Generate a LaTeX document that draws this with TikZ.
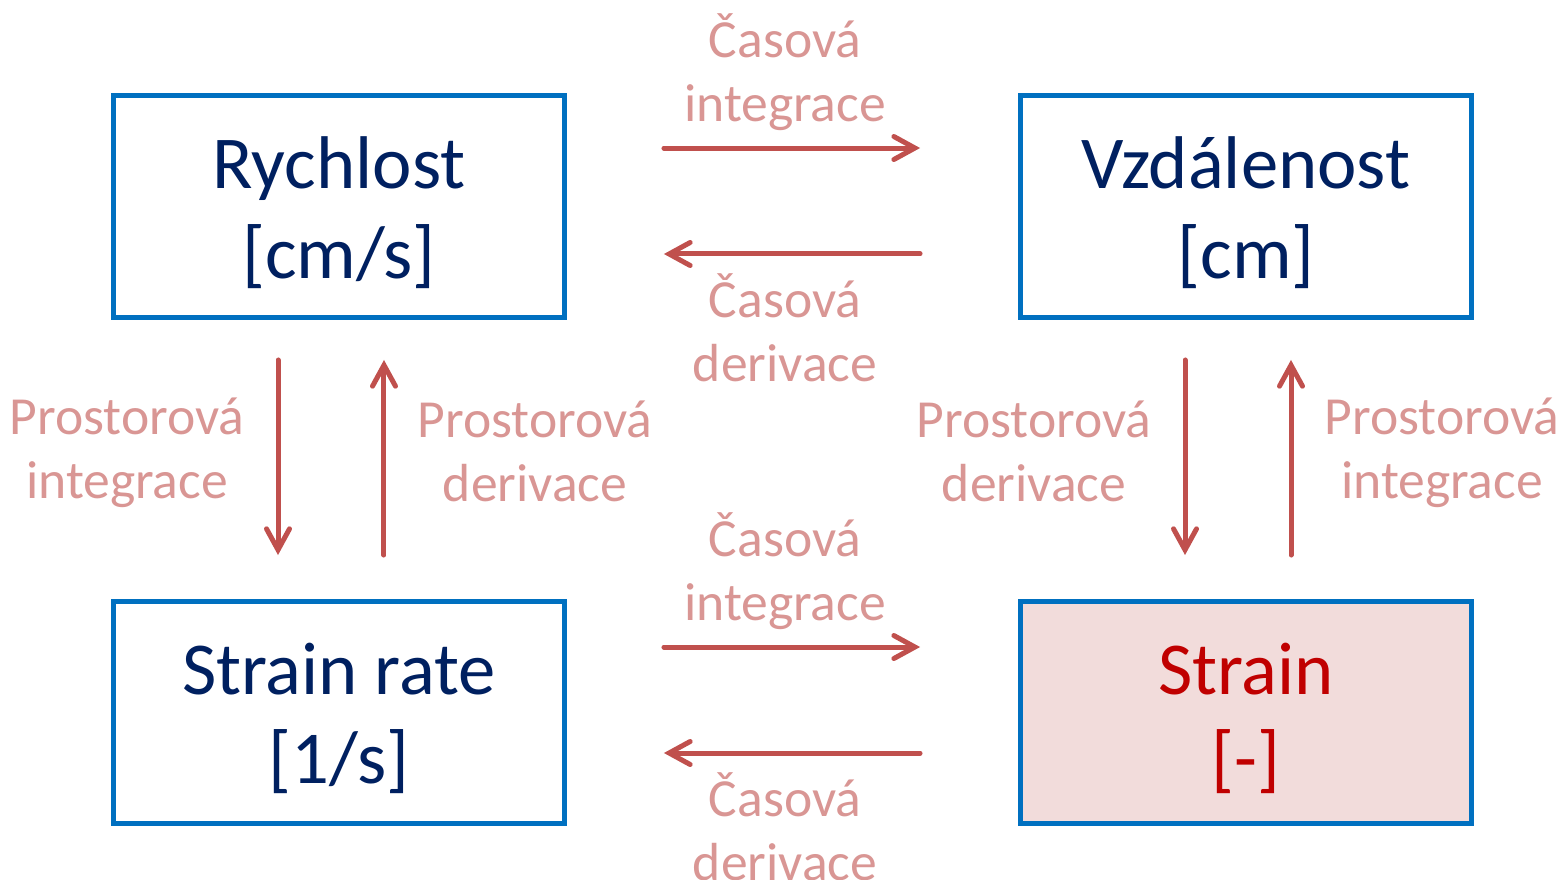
\documentclass[tikz,border=0pt]{standalone}
\usepackage{fontspec}
\setmainfont{Carlito}
\usepackage{xcolor}
\definecolor{cBox}{HTML}{0070C0}
\definecolor{cText}{HTML}{002060}
\definecolor{cStrain}{HTML}{C00000}
\definecolor{cFill}{HTML}{F2DCDB}
\definecolor{cArrow}{HTML}{C0504D}
\definecolor{cLabel}{HTML}{D99694}
\usepackage{tikz}
\usetikzlibrary{positioning,arrows.meta,calc}
\tikzset{
  box-main/.style={draw=cBox,line width=0.1cm,minimum width=9.02cm,
    minimum height=4.44cm},
  box-strain/.style={box-main,fill=cFill},
  box-text/.style={align=center,text=cText,
    font=\fontsize{42.5}{51}\selectfont},
  box-text-strain/.style={box-text,text=cStrain},
  arrow-flow/.style={-{Straight Barb[length=4.2mm,width=4.6mm,line cap=round]},
    line width=0.1cm,draw=cArrow,line cap=round},
  lbl/.style={text=cLabel,align=center,font=\fontsize{30.5}{36.5}\selectfont},
}
\begin{document}
\begin{tikzpicture}[x=0.02cm,y=-0.02cm]
  \useasboundingbox (0,0) rectangle (1561,879);
  % boxes
  \node[box-main] (rych) at (339,206.5) {};
  \node[box-main] (vzd) at (1246,206.5) {};
  \node[box-main] (rate) at (339,712.5) {};
  \node[box-strain] (strain) at (1246,712.5) {};
  \node[box-text] (rych-txt) at ([yshift=-0.12cm]rych.center) {Rychlost\\{}[cm/s]};
  \node[box-text] (vzd-txt) at ([yshift=-0.12cm]vzd.center) {Vzdálenost\\{}[cm]};
  \node[box-text] (rate-txt) at ([yshift=-0.12cm]rate.center) {Strain rate\\{}[1/s]};
  \node[box-text-strain] (strain-txt) at ([yshift=-0.12cm]strain.center) {Strain\\{}[-]};
  % horizontal arrows
  \draw[arrow-flow,shorten <=1.94cm,shorten >=1.96cm]
    ([yshift=1.17cm]rych.east) -- ([yshift=1.17cm]vzd.west);
  \draw[arrow-flow,shorten <=1.96cm,shorten >=1.94cm]
    ([yshift=-0.95cm]vzd.west) -- ([yshift=-0.95cm]rych.east);
  \draw[arrow-flow,shorten <=1.94cm,shorten >=1.96cm]
    ([yshift=1.31cm]rate.east) -- ([yshift=1.31cm]strain.west);
  \draw[arrow-flow,shorten <=1.96cm,shorten >=1.94cm]
    ([yshift=-0.81cm]strain.west) -- ([yshift=-0.81cm]rate.east);
  % vertical arrows
  \draw[arrow-flow,shorten <=0.8cm,shorten >=0.88cm]
    ([xshift=-1.22cm]rych.south) -- ([xshift=-1.22cm]rate.north);
  \draw[arrow-flow,shorten <=0.88cm,shorten >=0.8cm]
    ([xshift=0.9cm]rate.north) -- ([xshift=0.9cm]rych.south);
  \draw[arrow-flow,shorten <=0.8cm,shorten >=0.88cm]
    ([xshift=-1.22cm]vzd.south) -- ([xshift=-1.22cm]strain.north);
  \draw[arrow-flow,shorten <=0.88cm,shorten >=0.8cm]
    ([xshift=0.9cm]strain.north) -- ([xshift=0.9cm]vzd.south);
  % labels
  \node[lbl] (t-int-top) at (785,72) {Časová\\integrace};
  \node[lbl] (t-der-top) at (785,328) {Časová\\derivace};
  \node[lbl] (t-int-bot) at (785,571) {Časová\\integrace};
  \node[lbl] (t-der-bot) at (785,827) {Časová\\derivace};
  \node[lbl] (p-int-left) at (127,453) {Prostorová\\integrace};
  \node[lbl] (p-der-left) at (535,451) {Prostorová\\derivace};
  \node[lbl] (p-der-right) at (1034,451) {Prostorová\\derivace};
  \node[lbl] (p-int-right) at (1442,453) {Prostorová\\integrace};
\end{tikzpicture}
\end{document}
